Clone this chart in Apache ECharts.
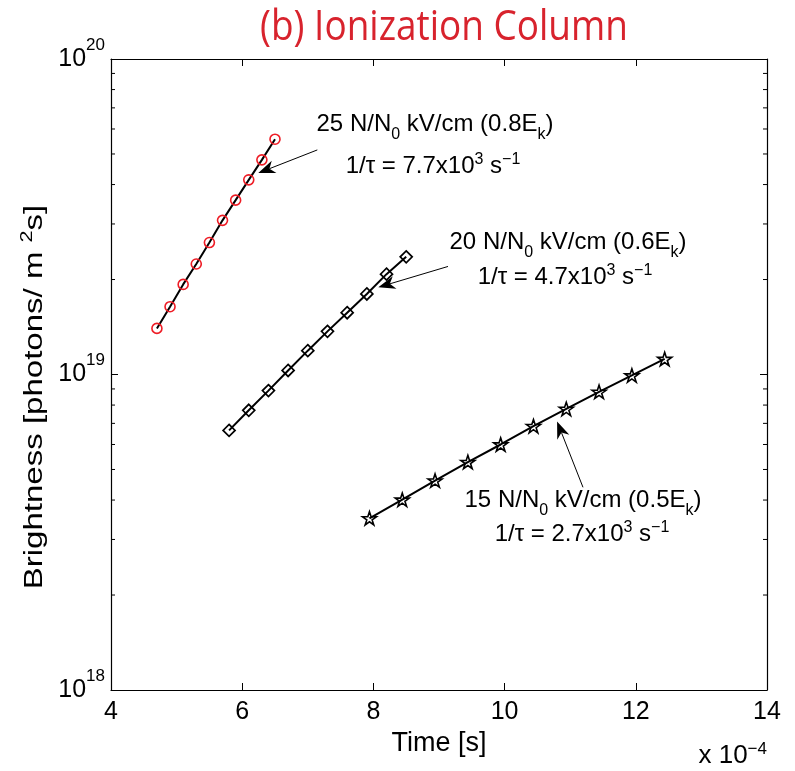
<!DOCTYPE html>
<html>
<head>
<meta charset="utf-8">
<script src="https://cdn.jsdelivr.net/npm/echarts@6/dist/echarts.min.js"></script>
<style>html,body{margin:0;padding:0;background:#fff}#c{width:795px;height:771px}</style>
</head>
<body>
<div id="c"></div>
<script>
// ---- data (time in units of 1e-4 s, brightness in photons/m^2 s) ----
const timeTickValues = [4, 6, 8, 10, 12, 14];
const brightnessDecades = [18, 19, 20];

const time25 = [4.7, 4.9, 5.1, 5.3, 5.5, 5.7, 5.9, 6.1, 6.3, 6.5];
const bright25 = [1.40e19, 1.64e19, 1.93e19, 2.24e19, 2.62e19, 3.08e19, 3.57e19, 4.14e19, 4.79e19, 5.57e19];

const time20 = [5.8, 6.1, 6.4, 6.7, 7.0, 7.3, 7.6, 7.9, 8.2, 8.5];
const bright20 = [6.65e18, 7.70e18, 8.89e18, 1.03e19, 1.19e19, 1.37e19, 1.57e19, 1.80e19, 2.08e19, 2.36e19];

const time15 = [7.94, 8.44, 8.94, 9.44, 9.94, 10.44, 10.94, 11.44, 11.94, 12.44];
const bright15 = [3.50e18, 4.01e18, 4.61e18, 5.28e18, 6.00e18, 6.86e18, 7.78e18, 8.81e18, 9.93e18, 1.12e19];

const titleText = '(b) Ionization Column';
const xName = 'Time [s]';
const yName = 'Brightness [photons/ m {sup|2}s]';

// annotation texts and arrow anchors (data coordinates)
const annotations = [
  { line1: '25 N/N{sub|0} kV/cm (0.8E{sub|k})', line2: '1/τ = 7.7x10{sup|3} s{sup|−1}',
    tail: [7.145, 5.15e19], tip: [6.245, 4.35e19], pos1: [435, 124], pos2: [433, 166] },
  { line1: '20 N/N{sub|0} kV/cm (0.6E{sub|k})', line2: '1/τ = 4.7x10{sup|3} s{sup|−1}',
    tail: [9.137, 2.20e19], tip: [8.075, 1.89e19], pos1: [568, 242], pos2: [565, 277] },
  { line1: '15 N/N{sub|0} kV/cm (0.5E{sub|k})', line2: '1/τ = 2.7x10{sup|3} s{sup|−1}',
    tail: [11.195, 4.39e18], tip: [10.80, 7.10e18], pos1: [583, 500], pos2: [582, 534] }
];

const zip = (a, b) => a.map((v, i) => [v, b[i]]);
const FONT = 'Liberation Sans, Arial, Helvetica, sans-serif';

const richMain = {
  m: { fontSize: 24, lineHeight: 24, fontFamily: FONT, color: '#000', verticalAlign: 'middle' },
  sub: { fontSize: 16, lineHeight: 16, fontFamily: FONT, color: '#000', padding: [22, 0, 0, 0], verticalAlign: 'middle' },
  sup: { fontSize: 16, lineHeight: 16, fontFamily: FONT, color: '#000', padding: [0, 0, 12, 0], verticalAlign: 'middle' }
};

function wrapMain(s) {
  const parts = s.split(/(\{(?:sub|sup)\|[^}]*\})/);
  return parts.filter(p => p.length).map(p => p.startsWith('{') ? p : '{m|' + p + '}').join('');
}

const pentagram = 'path://M100 0 L122.45 69.1 L195.1 69.1 L136.3 111.8 L158.8 180.9 L100 138.2 L41.2 180.9 L63.7 111.8 L4.9 69.1 L77.55 69.1 Z';

const chart = echarts.init(document.getElementById('c'), null, { renderer: 'canvas' });

const axisLineStyle = { show: true, lineStyle: { color: '#000', width: 1.2 } };
const tickStyle = { show: true, inside: true, length: 7, lineStyle: { color: '#000', width: 1 } };

const option = {
  animation: false,
  backgroundColor: '#fff',
  grid: { left: 111, right: 28, top: 59, bottom: 81, containLabel: false },
  xAxis: [
    {
      type: 'value', min: 4, max: 14, interval: 2, position: 'bottom',
      name: xName, nameLocation: 'middle', nameGap: 40,
      nameTextStyle: { fontSize: 27, fontFamily: FONT, color: '#000' },
      axisLine: axisLineStyle, axisTick: tickStyle, splitLine: { show: false },
      axisLabel: {
        margin: 10, fontSize: 25, fontFamily: FONT, color: '#000',
        formatter: v => timeTickValues.includes(v) ? String(v) : ''
      }
    },
    {
      type: 'value', min: 4, max: 14, interval: 2, position: 'top',
      axisLine: axisLineStyle, axisTick: tickStyle, splitLine: { show: false },
      axisLabel: { show: false }
    }
  ],
  yAxis: [
    {
      type: 'log', logBase: 10, min: 1e18, max: 1e20, position: 'left',
      axisLine: axisLineStyle, axisTick: tickStyle, splitLine: { show: false },
      axisLabel: {
        margin: 6,
        formatter: v => {
          const e = Math.round(Math.log10(v));
          return brightnessDecades.includes(e) ? '{b|10}{e|' + e + '}' : '';
        },
        rich: {
          b: { fontSize: 25, lineHeight: 25, fontFamily: FONT, color: '#000', verticalAlign: 'middle' },
          e: { fontSize: 17, lineHeight: 17, fontFamily: FONT, color: '#000', padding: [0, 0, 28, 0], verticalAlign: 'middle' }
        }
      }
    },
    {
      type: 'log', logBase: 10, min: 1e18, max: 1e20, position: 'right',
      axisLine: axisLineStyle, axisTick: tickStyle, splitLine: { show: false },
      axisLabel: { show: false }
    }
  ],
  series: [
    {
      name: '25 N/N0 kV/cm', type: 'line', data: zip(time25, bright25),
      symbol: 'circle', symbolSize: 10, showSymbol: true,
      lineStyle: { color: '#000', width: 2 },
      itemStyle: { color: 'none', borderColor: '#ee1c25', borderWidth: 1.6 },
      z: 3
    },
    {
      name: '20 N/N0 kV/cm', type: 'line', data: zip(time20, bright20),
      symbol: 'diamond', symbolSize: 12, showSymbol: true,
      lineStyle: { color: '#000', width: 2 },
      itemStyle: { color: 'none', borderColor: '#000', borderWidth: 1.7 },
      z: 3
    },
    {
      name: '15 N/N0 kV/cm', type: 'line', data: zip(time15, bright15),
      symbol: pentagram, symbolSize: 14, symbolKeepAspect: true, showSymbol: true,
      lineStyle: { color: '#000', width: 2 },
      itemStyle: { color: 'none', borderColor: '#000', borderWidth: 1.6 },
      z: 3
    }
  ]
};
chart.setOption(option);

// ---- decorations computed through the chart's own scales ----
const gfx = [];
const xL = chart.convertToPixel({ xAxisIndex: 0 }, 4);
const xR = chart.convertToPixel({ xAxisIndex: 0 }, 14);

for (let d = 18; d < 20; d++) {
  for (let k = 2; k <= 9; k++) {
    const y = chart.convertToPixel({ yAxisIndex: 0 }, k * Math.pow(10, d));
    gfx.push({ type: 'line', shape: { x1: xL, y1: y, x2: xL + 4, y2: y }, style: { stroke: '#000', lineWidth: 1 }, silent: true });
    gfx.push({ type: 'line', shape: { x1: xR, y1: y, x2: xR - 4, y2: y }, style: { stroke: '#000', lineWidth: 1 }, silent: true });
  }
}

annotations.forEach(a => {
  const t = chart.convertToPixel({ xAxisIndex: 0, yAxisIndex: 0 }, a.tail);
  const p = chart.convertToPixel({ xAxisIndex: 0, yAxisIndex: 0 }, a.tip);
  const dx = p[0] - t[0], dy = p[1] - t[1];
  const len = Math.hypot(dx, dy);
  const ux = dx / len, uy = dy / len, nx = -uy, ny = ux;
  const L = 17, W = 6.5, N = 12;
  const bx = p[0] - ux * L, by = p[1] - uy * L;
  const nbx = p[0] - ux * N, nby = p[1] - uy * N;
  gfx.push({ type: 'line', shape: { x1: t[0], y1: t[1], x2: nbx, y2: nby }, style: { stroke: '#000', lineWidth: 1 }, silent: true, z: 10 });
  gfx.push({
    type: 'polygon',
    shape: { points: [[p[0], p[1]], [bx + nx * W, by + ny * W], [nbx, nby], [bx - nx * W, by - ny * W]] },
    style: { fill: '#000' }, silent: true, z: 10
  });
  gfx.push({ type: 'text', x: a.pos1[0], y: a.pos1[1], z: 10,
    style: { text: wrapMain(a.line1), rich: richMain, align: 'center', verticalAlign: 'middle' } });
  gfx.push({ type: 'text', x: a.pos2[0], y: a.pos2[1], z: 10,
    style: { text: wrapMain(a.line2), rich: richMain, align: 'center', verticalAlign: 'middle' } });
});

// title
gfx.push({ type: 'text', x: 444, y: 28, scaleX: 0.88, z: 10,
  style: { text: titleText, fontSize: 42, fontFamily: 'Open Sans, sans-serif', fill: '#d8232d', align: 'center', verticalAlign: 'middle' } });

// y axis name (stretched along its length as in the reference)
gfx.push({ type: 'text', x: 35, y: 397, rotation: Math.PI / 2, scaleX: 1.27, z: 10,
  style: { text: wrapMain(yName), rich: {
      m: { fontSize: 26, lineHeight: 26, fontFamily: FONT, color: '#000', verticalAlign: 'middle' },
      sup: { fontSize: 17, lineHeight: 17, fontFamily: FONT, color: '#000', padding: [0, 0, 15, 0], verticalAlign: 'middle' }
    }, align: 'center', verticalAlign: 'middle' } });

// axis multiplier
gfx.push({ type: 'text', x: xR, y: 756, z: 10,
  style: { text: '{m|x 10}{sup|−4}', rich: {
      m: { fontSize: 26, lineHeight: 26, fontFamily: FONT, color: '#000', verticalAlign: 'middle' },
      sup: { fontSize: 17, lineHeight: 17, fontFamily: FONT, color: '#000', padding: [0, 0, 14, 0], verticalAlign: 'middle' }
    }, align: 'right', verticalAlign: 'middle' } });

chart.setOption({ graphic: { elements: gfx } });
</script>
</body>
</html>
